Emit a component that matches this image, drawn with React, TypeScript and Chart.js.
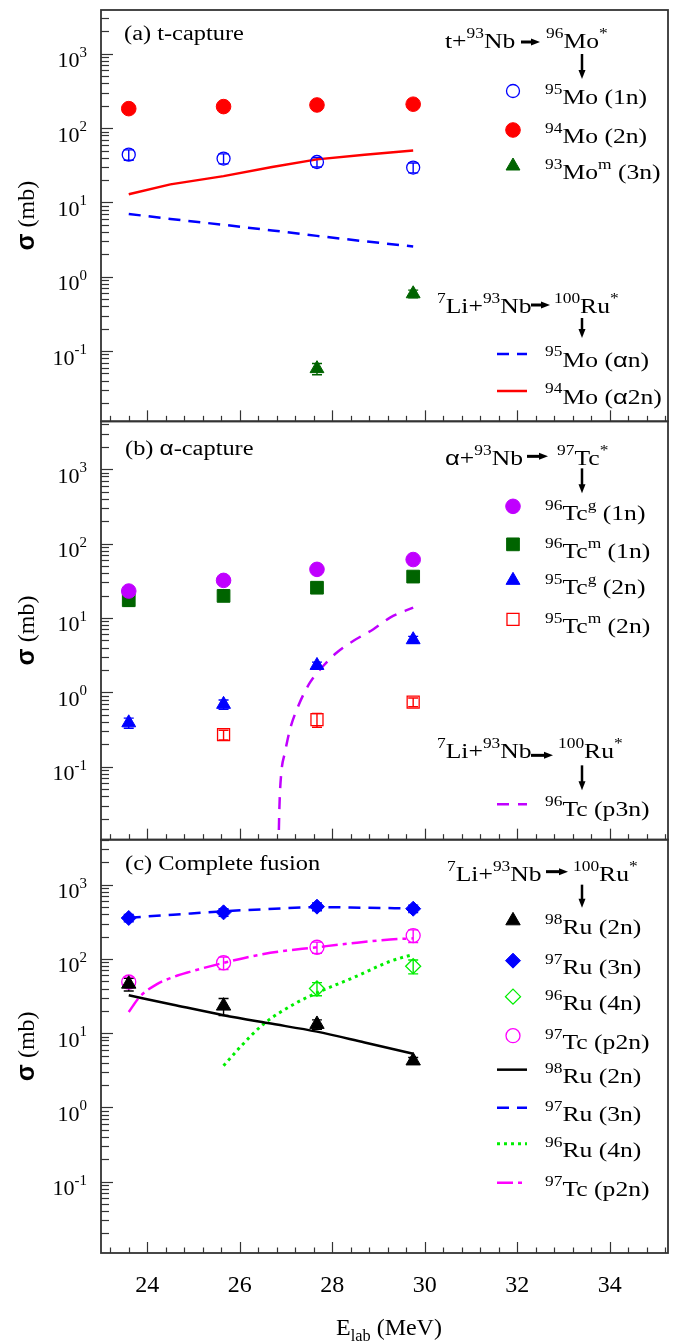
import React, { useEffect, useRef } from 'react';
import { Chart, registerables } from 'chart.js';

Chart.register(...registerables);

const W = 685;
const H = 1344;
const SERIF = '"Liberation Serif", "Times New Roman", Times, serif';
const SANS = '"Liberation Sans", "DejaVu Sans", Arial, sans-serif';
const AXIS = '#333333';

// ---------------- data ----------------
const E_EXP = [23.6, 25.65, 27.67, 29.75];

// panel (a) t-capture
const MO95_1N = [44, 39, 35, 29.5];
const MO95_1N_ERR = [7, 6, 5, 4.5];
const MO94_2N = [183, 195, 205, 210];
const MO94_2N_ERR = [15, 15, 15, 20];
const MO93M_3N = [null, null, 0.058, 0.59];
const MO93M_3N_ERR = [0, 0, 0.01, 0.07];
const E_MODEL_A = [23.6, 24.5, 25.65, 26.7, 27.67, 28.7, 29.75];
const MO95_AN_MODEL = [7.0, 6.0, 5.0, 4.2, 3.55, 3.0, 2.55];
const MO94_A2N_MODEL = [12.9, 17.5, 22.6, 30, 38, 44, 50];

// panel (b) alpha-capture
const TC96G_1N = [23, 32, 45, 61];
const TC96G_1N_ERR = [2, 3, 4, 5];
const TC96M_1N = [17.3, 19.8, 25.5, 36];
const TC96M_1N_ERR = [3, 3, 3, 4];
const TC95G_2N = [0.39, 0.69, 2.3, 5.1];
const TC95G_2N_ERR = [0.06, 0.1, 0.25, 0.55];
const TC95M_2N = [null, 0.27, 0.43, 0.74];
const TC95M_2N_ERR = [0, 0.04, 0.09, 0.1];
const E_MODEL_B = [26.82, 26.857, 26.894, 26.98, 27.09, 27.27, 27.52, 27.81, 28.1, 28.46, 28.89, 29.25, 29.75];
const TC96_P3N_MODEL = [0.002, 0.0275, 0.077, 0.158, 0.324, 0.665, 1.36, 2.28, 3.44, 4.94, 7.06, 10.1, 13.8];

// panel (c) complete fusion
const RU98_2N = [46, 23.3, 13.2, 4.25];
const RU98_2N_ERR = [9, 6, 1.9, 0.45];
const RU97_3N = [357, 425, 507, 476];
const RU97_3N_ERR = [40, 50, 60, 55];
const RU96_4N = [null, null, 40, 80];
const RU96_4N_ERR = [0, 0, 8, 17];
const TC97_P2N = [49, 89, 144, 207];
const TC97_P2N_ERR = [8, 17, 25, 40];
const E_MODEL_C = [23.6, 24.56, 25.65, 26.6, 27.67, 28.7, 29.75];
const RU98_MODEL = [32.4, 24.2, 17.5, 13.7, 10.5, 7.5, 5.3];
const RU97_MODEL = [360, 395, 440, 470, 500, 490, 480];
const E_MODEL_C_TC = [23.6, 23.84, 24.2, 24.56, 24.92, 25.65, 26.66, 27.67, 28.53, 29.25, 29.75];
const TC97_MODEL = [19.3, 31, 45.5, 57, 67, 88.7, 121, 144, 166, 183, 190];
const E_MODEL_C_RU96 = [25.65, 26.0, 26.51, 27.23, 27.67, 28.53, 29.25, 29.75];
const RU96_MODEL = [3.64, 6.4, 13.2, 25.8, 35, 58.7, 93, 115];

// axes
const X_MIN = 23;
const X_MAX = 35.26;
const X_TICKS = [24, 26, 28, 30, 32, 34];
const Y_TICK_EXP = [-1, 0, 1, 2, 3];
const PANEL_IDS = ['ya', 'yb', 'yc'];
const Y_MIN_LOG = [-1.946, -1.98, -1.962];
const Y_MAX_LOG = [3.59, 3.643, 3.608];
const PANEL_WEIGHT = [413, 420, 415];

// colours
const BLUE = '#0000ff';
const RED = '#ff0000';
const DKGREEN = '#006400';
const PURPLE = '#c000ff';
const MAGENTA = '#ff00ff';
const LTGREEN = '#00ee00';
const BLACK = '#000000';

type Part = [string, number, string?];

const LBL = {
  mo95: [['95', 1], ['Mo (1n)', 0]] as Part[],
  mo94: [['94', 1], ['Mo (2n)', 0]] as Part[],
  mo93: [['93', 1], ['Mo', 0], ['m', 1], [' (3n)', 0]] as Part[],
  mo95an: [['95', 1], ['Mo (', 0], ['α', 0, SANS], ['n)', 0]] as Part[],
  mo94a2n: [['94', 1], ['Mo (', 0], ['α', 0, SANS], ['2n)', 0]] as Part[],
  tc96g: [['96', 1], ['Tc', 0], ['g', 1], [' (1n)', 0]] as Part[],
  tc96m: [['96', 1], ['Tc', 0], ['m', 1], [' (1n)', 0]] as Part[],
  tc95g: [['95', 1], ['Tc', 0], ['g', 1], [' (2n)', 0]] as Part[],
  tc95m: [['95', 1], ['Tc', 0], ['m', 1], [' (2n)', 0]] as Part[],
  tc96p3n: [['96', 1], ['Tc (p3n)', 0]] as Part[],
  ru98: [['98', 1], ['Ru (2n)', 0]] as Part[],
  ru97: [['97', 1], ['Ru (3n)', 0]] as Part[],
  ru96: [['96', 1], ['Ru (4n)', 0]] as Part[],
  tc97: [['97', 1], ['Tc (p2n)', 0]] as Part[],
};

const HEAD_T_L: Part[] = [['t+', 0], ['93', 1], ['Nb', 0]];
const HEAD_T_R: Part[] = [['96', 1], ['Mo', 0], ['*', 1]];
const HEAD_A_L: Part[] = [['α', 0, SANS], ['+', 0], ['93', 1], ['Nb', 0]];
const HEAD_A_R: Part[] = [['97', 1], ['Tc', 0], ['*', 1]];
const HEAD_LI_L: Part[] = [['7', 1], ['Li+', 0], ['93', 1], ['Nb', 0]];
const HEAD_LI_R: Part[] = [['100', 1], ['Ru', 0], ['*', 1]];

const TITLE_A: Part[] = [['(a) t-capture', 0]];
const TITLE_B: Part[] = [['(b) ', 0], ['α', 0, SANS], ['-capture', 0]];
const TITLE_C: Part[] = [['(c) Complete fusion', 0]];

// ---------------- helpers ----------------
function pts(xs: number[], ys: (number | null)[]) {
  const out: { x: number; y: number }[] = [];
  xs.forEach((x, i) => {
    const y = ys[i];
    if (y !== null && y !== undefined) out.push({ x, y });
  });
  return out;
}
function errs(ys: (number | null)[], es: number[]) {
  const out: number[] = [];
  ys.forEach((y, i) => {
    if (y !== null && y !== undefined) out.push(es[i]);
  });
  return out;
}

type MStyle = { shape: string; r: number; color: string; filled: boolean };
const M = {
  mo95: { shape: 'circle', r: 6.5, color: BLUE, filled: false },
  mo94: { shape: 'circle', r: 7.3, color: RED, filled: true },
  mo93: { shape: 'triangle', r: 8, color: DKGREEN, filled: true },
  tc96g: { shape: 'circle', r: 7.3, color: PURPLE, filled: true },
  tc96m: { shape: 'rect', r: 9, color: DKGREEN, filled: true },
  tc95g: { shape: 'triangle', r: 8, color: BLUE, filled: true },
  tc95m: { shape: 'rect', r: 8.5, color: RED, filled: false },
  ru98: { shape: 'triangle', r: 8.3, color: BLACK, filled: true },
  ru97: { shape: 'rectRot', r: 7.5, color: BLUE, filled: true },
  ru96: { shape: 'rectRot', r: 7.5, color: LTGREEN, filled: false },
  tc97: { shape: 'circle', r: 7, color: MAGENTA, filled: false },
} as Record<string, MStyle>;

type LStyle = { color: string; width: number; dash: number[]; smooth: boolean };
const L = {
  mo95an: { color: BLUE, width: 2.5, dash: [12, 8], smooth: false },
  mo94a2n: { color: RED, width: 2.5, dash: [], smooth: false },
  tc96p3n: { color: PURPLE, width: 2.5, dash: [12, 9], smooth: true },
  ru98: { color: BLACK, width: 2.5, dash: [], smooth: true },
  ru97: { color: BLUE, width: 2.5, dash: [12, 8], smooth: true },
  ru96: { color: LTGREEN, width: 3, dash: [3, 4], smooth: true },
  tc97: { color: MAGENTA, width: 2.5, dash: [16, 5, 4, 5], smooth: true },
} as Record<string, LStyle>;

function expSet(label: string, axis: string, ys: (number | null)[], es: number[], st: MStyle) {
  return {
    label,
    yAxisID: axis,
    data: pts(E_EXP, ys),
    errors: errs(ys, es),
    showLine: false,
    pointStyle: st.shape,
    pointRadius: st.r,
    pointHoverRadius: st.r,
    pointBackgroundColor: st.filled ? st.color : 'rgba(0,0,0,0)',
    pointBorderColor: st.color,
    pointBorderWidth: st.filled ? 1 : 1.3,
    borderColor: st.color,
  };
}
function modelSet(label: string, axis: string, xs: number[], ys: number[], st: LStyle) {
  return {
    label,
    yAxisID: axis,
    data: pts(xs, ys),
    showLine: true,
    pointRadius: 0,
    pointHoverRadius: 0,
    borderColor: st.color,
    borderWidth: st.width,
    borderDash: st.dash,
    tension: 0,
    cubicInterpolationMode: st.smooth ? 'monotone' : 'default',
    fill: false,
  };
}

function fontStr(size: number, fam: string, bold = false) {
  return `${bold ? 'bold ' : ''}${size}px ${fam}`;
}
function richWidth(ctx: CanvasRenderingContext2D, parts: Part[], size: number) {
  let w = 0;
  for (const [t, k, f] of parts) {
    ctx.font = fontStr(k ? size * 0.68 : size, f || SERIF);
    w += ctx.measureText(t).width;
  }
  return w;
}
function drawRich(
  ctx: CanvasRenderingContext2D,
  x: number,
  y: number,
  parts: Part[],
  size: number,
  align: 'left' | 'right' | 'center' = 'left',
  sx = 1,
  color = '#000'
) {
  const w = richWidth(ctx, parts, size) * sx;
  const x0 = align === 'left' ? x : align === 'right' ? x - w : x - w / 2;
  ctx.save();
  ctx.translate(x0, y);
  ctx.scale(sx, 1);
  ctx.textAlign = 'left';
  ctx.textBaseline = 'alphabetic';
  ctx.fillStyle = color;
  let cx = 0;
  for (const [t, k, f] of parts) {
    const s = k ? size * 0.68 : size;
    ctx.font = fontStr(s, f || SERIF);
    const dy = k === 1 ? -size * 0.48 : k === 2 ? size * 0.25 : 0;
    ctx.fillText(t, cx, dy);
    cx += ctx.measureText(t).width;
  }
  ctx.restore();
}
function drawMarker(ctx: CanvasRenderingContext2D, st: MStyle, x: number, y: number) {
  const r = st.r;
  ctx.save();
  ctx.beginPath();
  if (st.shape === 'circle') {
    ctx.arc(x, y, r, 0, Math.PI * 2);
  } else if (st.shape === 'triangle') {
    ctx.moveTo(x, y - r);
    ctx.lineTo(x + r * 0.866, y + r / 2);
    ctx.lineTo(x - r * 0.866, y + r / 2);
    ctx.closePath();
  } else if (st.shape === 'rect') {
    const s = r * Math.SQRT1_2;
    ctx.rect(x - s, y - s, 2 * s, 2 * s);
  } else {
    ctx.moveTo(x - r, y);
    ctx.lineTo(x, y - r);
    ctx.lineTo(x + r, y);
    ctx.lineTo(x, y + r);
    ctx.closePath();
  }
  if (st.filled) {
    ctx.fillStyle = st.color;
    ctx.fill();
  }
  ctx.lineWidth = st.filled ? 1 : 1.3;
  ctx.strokeStyle = st.color;
  ctx.stroke();
  ctx.restore();
}
function drawLegLine(ctx: CanvasRenderingContext2D, st: LStyle, x1: number, x2: number, y: number) {
  ctx.save();
  ctx.strokeStyle = st.color;
  ctx.lineWidth = st.width;
  ctx.setLineDash(st.dash);
  ctx.beginPath();
  ctx.moveTo(x1, y);
  ctx.lineTo(x2, y);
  ctx.stroke();
  ctx.restore();
}
function hArrow(ctx: CanvasRenderingContext2D, x1: number, x2: number, y: number) {
  ctx.save();
  ctx.strokeStyle = '#000';
  ctx.fillStyle = '#000';
  ctx.lineWidth = 3;
  ctx.beginPath();
  ctx.moveTo(x1, y);
  ctx.lineTo(x2 - 6, y);
  ctx.stroke();
  ctx.beginPath();
  ctx.moveTo(x2, y);
  ctx.lineTo(x2 - 9, y - 3.5);
  ctx.lineTo(x2 - 9, y + 3.5);
  ctx.closePath();
  ctx.fill();
  ctx.restore();
}
function vArrow(ctx: CanvasRenderingContext2D, x: number, y1: number, y2: number) {
  ctx.save();
  ctx.strokeStyle = '#000';
  ctx.fillStyle = '#000';
  ctx.lineWidth = 2.5;
  ctx.beginPath();
  ctx.moveTo(x, y1);
  ctx.lineTo(x, y2 - 6);
  ctx.stroke();
  ctx.beginPath();
  ctx.moveTo(x, y2);
  ctx.lineTo(x - 3.5, y2 - 9);
  ctx.lineTo(x + 3.5, y2 - 9);
  ctx.closePath();
  ctx.fill();
  ctx.restore();
}

const LEG_SIZE = 21;
const LEG_SX = 1.22;
const TITLE_SIZE = 20;
const TITLE_SX = 1.22;

function drawLegends(ctx: CanvasRenderingContext2D, tops: number[]) {
  const mx = 513;
  const tx = 545;
  const lx1 = 497;
  const lx2 = 527;
  // ---- panel a ----
  let T = tops[0];
  drawRich(ctx, 124, T + 30, TITLE_A, TITLE_SIZE, 'left', TITLE_SX);
  drawRich(ctx, 445, T + 38, HEAD_T_L, LEG_SIZE, 'left', LEG_SX);
  hArrow(ctx, 521, 540, T + 32);
  drawRich(ctx, 546, T + 38, HEAD_T_R, LEG_SIZE, 'left', LEG_SX);
  vArrow(ctx, 582, T + 44, T + 69);
  const aEntries: [MStyle, Part[], number][] = [
    [M.mo95, LBL.mo95, 81],
    [M.mo94, LBL.mo94, 120],
    [M.mo93, LBL.mo93, 156],
  ];
  for (const [st, lb, dy] of aEntries) {
    drawMarker(ctx, st, mx, T + dy);
    drawRich(ctx, tx, T + dy + 13, lb, LEG_SIZE, 'left', LEG_SX);
  }
  drawRich(ctx, 437, T + 303, HEAD_LI_L, LEG_SIZE, 'left', LEG_SX);
  hArrow(ctx, 531, 550, T + 295);
  drawRich(ctx, 554, T + 303, HEAD_LI_R, LEG_SIZE, 'left', LEG_SX);
  vArrow(ctx, 582, T + 308, T + 328);
  const aLines: [LStyle, Part[], number][] = [
    [L.mo95an, LBL.mo95an, 344],
    [L.mo94a2n, LBL.mo94a2n, 381],
  ];
  for (const [st, lb, dy] of aLines) {
    drawLegLine(ctx, st, lx1, lx2, T + dy);
    drawRich(ctx, tx, T + dy + 12.5, lb, LEG_SIZE, 'left', LEG_SX);
  }

  // ---- panel b ----
  T = tops[1];
  drawRich(ctx, 125, T + 34, TITLE_B, TITLE_SIZE, 'left', TITLE_SX);
  drawRich(ctx, 445, T + 44, HEAD_A_L, LEG_SIZE, 'left', LEG_SX);
  hArrow(ctx, 527, 548, T + 35);
  drawRich(ctx, 557, T + 44, HEAD_A_R, LEG_SIZE, 'left', LEG_SX);
  vArrow(ctx, 582, T + 47, T + 72);
  const bEntries: [MStyle, Part[], number][] = [
    [M.tc96g, LBL.tc96g, 85],
    [M.tc96m, LBL.tc96m, 123],
    [M.tc95g, LBL.tc95g, 159],
    [M.tc95m, LBL.tc95m, 198],
  ];
  for (const [st, lb, dy] of bEntries) {
    drawMarker(ctx, st, mx, T + dy);
    drawRich(ctx, tx, T + dy + 14, lb, LEG_SIZE, 'left', LEG_SX);
  }
  drawRich(ctx, 437, T + 337, HEAD_LI_L, LEG_SIZE, 'left', LEG_SX);
  hArrow(ctx, 531, 553, T + 334);
  drawRich(ctx, 558, T + 337, HEAD_LI_R, LEG_SIZE, 'left', LEG_SX);
  vArrow(ctx, 582, T + 344, T + 369);
  drawLegLine(ctx, L.tc96p3n, lx1, lx2, T + 383);
  drawRich(ctx, tx, T + 395, LBL.tc96p3n, LEG_SIZE, 'left', LEG_SX);

  // ---- panel c ----
  T = tops[2];
  drawRich(ctx, 125, T + 30, TITLE_C, TITLE_SIZE, 'left', TITLE_SX);
  drawRich(ctx, 447, T + 41, HEAD_LI_L, LEG_SIZE, 'left', LEG_SX);
  hArrow(ctx, 546, 568, T + 32);
  drawRich(ctx, 573, T + 41, HEAD_LI_R, LEG_SIZE, 'left', LEG_SX);
  vArrow(ctx, 582, T + 45, T + 68);
  const cEntries: [MStyle, Part[], number][] = [
    [M.ru98, LBL.ru98, 81],
    [M.ru97, LBL.ru97, 121],
    [M.ru96, LBL.ru96, 157],
    [M.tc97, LBL.tc97, 196],
  ];
  for (const [st, lb, dy] of cEntries) {
    drawMarker(ctx, st, mx, T + dy);
    drawRich(ctx, tx, T + dy + 13, lb, LEG_SIZE, 'left', LEG_SX);
  }
  const cLines: [LStyle, Part[], number][] = [
    [L.ru98, LBL.ru98, 230],
    [L.ru97, LBL.ru97, 268],
    [L.ru96, LBL.ru96, 304],
    [L.tc97, LBL.tc97, 343],
  ];
  for (const [st, lb, dy] of cLines) {
    drawLegLine(ctx, st, lx1, lx2, T + dy);
    drawRich(ctx, tx, T + dy + 13, lb, LEG_SIZE, 'left', LEG_SX);
  }
}

const framePlugin = {
  id: 'frames',
  beforeDatasetsDraw(chart: any) {
    const ctx: CanvasRenderingContext2D = chart.ctx;
    const xs = chart.scales.x;
    chart.data.datasets.forEach((ds: any) => {
      if (!ds.errors) return;
      const ys = chart.scales[ds.yAxisID];
      ctx.save();
      ctx.beginPath();
      ctx.rect(xs.left, ys.top, xs.right - xs.left, ys.bottom - ys.top);
      ctx.clip();
      ctx.strokeStyle = ds.pointBorderColor;
      ctx.lineWidth = 1.4;
      ds.data.forEach((p: any, i: number) => {
        const e = ds.errors[i];
        if (!e) return;
        const x = xs.getPixelForValue(p.x);
        const y1 = ys.getPixelForValue(Math.max(p.y - e, 1e-6));
        const y2 = ys.getPixelForValue(p.y + e);
        ctx.beginPath();
        ctx.moveTo(x, y1);
        ctx.lineTo(x, y2);
        ctx.moveTo(x - 5, y1);
        ctx.lineTo(x + 5, y1);
        ctx.moveTo(x - 5, y2);
        ctx.lineTo(x + 5, y2);
        ctx.stroke();
      });
      ctx.restore();
    });
  },
  afterDraw(chart: any) {
    const ctx: CanvasRenderingContext2D = chart.ctx;
    const xs = chart.scales.x;
    const left = xs.left;
    const right = xs.right;
    const tops: number[] = [];
    PANEL_IDS.forEach((id) => {
      const ys = chart.scales[id];
      tops.push(ys.top);
      ctx.save();
      ctx.strokeStyle = AXIS;
      ctx.lineWidth = 1.2;
      for (let k = -3; k <= 4; k++) {
        for (let m = 1; m <= 9; m++) {
          const v = m * Math.pow(10, k);
          if (v < ys.min || v > ys.max) continue;
          const y = Math.round(ys.getPixelForValue(v)) + 0.5;
          const len = m === 1 ? 12 : 8;
          ctx.beginPath();
          ctx.moveTo(left, y);
          ctx.lineTo(left + len, y);
          ctx.stroke();
        }
      }
      for (let i = 58; i <= 88; i++) {
        const v = i * 0.4;
        if (v < X_MIN || v > X_MAX) continue;
        const x = Math.round(xs.getPixelForValue(v)) + 0.5;
        const len = i % 5 === 0 ? 11 : 5.5;
        ctx.beginPath();
        ctx.moveTo(x, ys.bottom);
        ctx.lineTo(x, ys.bottom - len);
        ctx.stroke();
      }
      ctx.lineWidth = 1.8;
      ctx.strokeRect(left, ys.top, right - left, ys.bottom - ys.top);
      ctx.restore();

      Y_TICK_EXP.forEach((k) => {
        const y = ys.getPixelForValue(Math.pow(10, k));
        drawRich(ctx, left - 14, y + 13.5, [['10', 0], [String(k), 1]], 22, 'right', 1);
      });
      ctx.save();
      ctx.translate(26, (ys.top + ys.bottom) / 2);
      ctx.rotate(-Math.PI / 2);
      const pw = richWidth(ctx, [[' (mb)', 0]], 24);
      ctx.font = fontStr(25, SANS, true);
      const sw = ctx.measureText('σ').width;
      const tot = sw + pw;
      ctx.fillStyle = '#000';
      ctx.textBaseline = 'alphabetic';
      ctx.textAlign = 'left';
      ctx.fillText('σ', -tot / 2, 8);
      ctx.restore();
      ctx.save();
      ctx.translate(26, (ys.top + ys.bottom) / 2);
      ctx.rotate(-Math.PI / 2);
      drawRich(ctx, -tot / 2 + sw, 8, [[' (mb)', 0]], 24, 'left', 1);
      ctx.restore();
    });

    const bottom = chart.scales.yc.bottom;
    X_TICKS.forEach((v) => {
      drawRich(ctx, xs.getPixelForValue(v), bottom + 39, [[String(v), 0]], 24, 'center', 1);
    });
    drawRich(ctx, 389, bottom + 82, [['E', 0], ['lab', 2], [' (MeV)', 0]], 24, 'center', 1);

    drawLegends(ctx, tops);
  },
};

function buildConfig(): any {
  const datasets = [
    expSet('95Mo (1n)', 'ya', MO95_1N, MO95_1N_ERR, M.mo95),
    expSet('94Mo (2n)', 'ya', MO94_2N, MO94_2N_ERR, M.mo94),
    expSet('93Mom (3n)', 'ya', MO93M_3N, MO93M_3N_ERR, M.mo93),
    expSet('96Tcg (1n)', 'yb', TC96G_1N, TC96G_1N_ERR, M.tc96g),
    expSet('96Tcm (1n)', 'yb', TC96M_1N, TC96M_1N_ERR, M.tc96m),
    expSet('95Tcg (2n)', 'yb', TC95G_2N, TC95G_2N_ERR, M.tc95g),
    expSet('95Tcm (2n)', 'yb', TC95M_2N, TC95M_2N_ERR, M.tc95m),
    expSet('98Ru (2n)', 'yc', RU98_2N, RU98_2N_ERR, M.ru98),
    expSet('97Ru (3n)', 'yc', RU97_3N, RU97_3N_ERR, M.ru97),
    expSet('96Ru (4n)', 'yc', RU96_4N, RU96_4N_ERR, M.ru96),
    expSet('97Tc (p2n)', 'yc', TC97_P2N, TC97_P2N_ERR, M.tc97),
    modelSet('95Mo (an)', 'ya', E_MODEL_A, MO95_AN_MODEL, L.mo95an),
    modelSet('94Mo (a2n)', 'ya', E_MODEL_A, MO94_A2N_MODEL, L.mo94a2n),
    modelSet('96Tc (p3n)', 'yb', E_MODEL_B, TC96_P3N_MODEL, L.tc96p3n),
    modelSet('98Ru (2n) calc', 'yc', E_MODEL_C, RU98_MODEL, L.ru98),
    modelSet('97Ru (3n) calc', 'yc', E_MODEL_C, RU97_MODEL, L.ru97),
    modelSet('96Ru (4n) calc', 'yc', E_MODEL_C_RU96, RU96_MODEL, L.ru96),
    modelSet('97Tc (p2n) calc', 'yc', E_MODEL_C_TC, TC97_MODEL, L.tc97),
  ];
  const yScale = (i: number) => ({
    type: 'logarithmic',
    position: 'left',
    stack: 'panels',
    stackWeight: PANEL_WEIGHT[i],
    weight: 3 - i,
    min: Math.pow(10, Y_MIN_LOG[i]),
    max: Math.pow(10, Y_MAX_LOG[i]),
    ticks: { display: false },
    grid: { display: false, drawTicks: false },
    border: { display: false },
    afterFit: (s: any) => {
      s.width = 101;
    },
  });
  return {
    type: 'scatter',
    data: { datasets },
    options: {
      responsive: false,
      animation: false,
      events: [],
      layout: { padding: { left: 0, right: 17, top: 5, bottom: 0 } },
      plugins: { legend: { display: false }, tooltip: { enabled: false } },
      scales: {
        x: {
          type: 'linear',
          position: 'bottom',
          min: X_MIN,
          max: X_MAX,
          ticks: { display: false },
          grid: { display: false, drawTicks: false },
          border: { display: false },
          afterFit: (s: any) => {
            s.height = 91;
          },
        },
        ya: yScale(0),
        yb: yScale(1),
        yc: yScale(2),
      },
    },
    plugins: [framePlugin],
  };
}

export default function App() {
  const ref = useRef<HTMLCanvasElement>(null);
  useEffect(() => {
    if (!ref.current) return;
    const chart = new Chart(ref.current, buildConfig());
    return () => chart.destroy();
  }, []);
  return (
    <div style={{ position: 'absolute', left: 0, top: 0, width: W, height: H, background: '#fff' }}>
      <canvas ref={ref} width={W} height={H} style={{ display: 'block', width: W, height: H }} />
    </div>
  );
}
